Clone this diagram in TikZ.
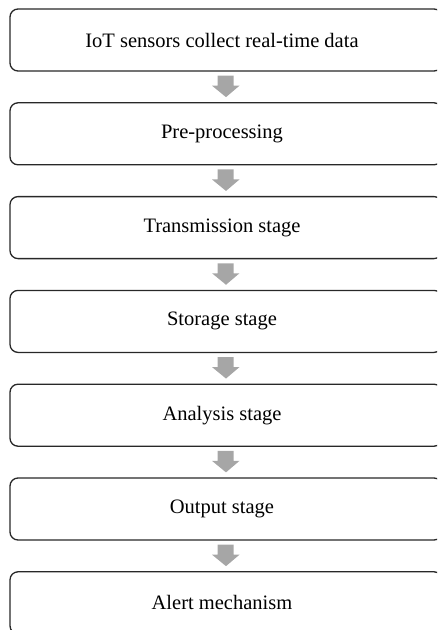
\documentclass[tikz,border=0pt]{standalone}
\usepackage{fontspec}
\setmainfont{Liberation Serif}
\definecolor{arrowgray}{RGB}{166,166,166}
\definecolor{edgegray}{RGB}{40,40,40}
\begin{document}
\begin{tikzpicture}[x=1pt,y=-1pt,
  stagebox/.style={draw=edgegray, line width=1.3pt, rounded corners=8pt,
    minimum width=432pt, minimum height=62pt, inner sep=0pt,
    font=\fontsize{20.5}{24}\selectfont},
  downarrow/.style={fill=arrowgray, draw=none}]
\useasboundingbox (0,0) rectangle (437,630);
\begin{scope}
\clip (0,0) rectangle (437,630);
\foreach \i/\txt in {0/IoT sensors collect real-time data,
                     1/Pre-processing,
                     2/Transmission stage,
                     3/Storage stage,
                     4/Analysis stage,
                     5/Output stage,
                     6/Alert mechanism}{
  \node[stagebox] (s\i) at (226,40+93.8*\i) {\hspace*{-8pt}\txt};
}
% block arrows in the gap between consecutive stages
\foreach \i [evaluate=\i as \j using int(\i+1)] in {0,...,5}{
  \coordinate (a\i) at ([yshift=-4pt]s\i.south);
  \fill[downarrow] ([xshift=-8.5pt]a\i) -- ([xshift=7.5pt]a\i)
       -- ([xshift=7.5pt,yshift=-10pt]a\i) -- ([xshift=13.5pt,yshift=-10pt]a\i)
       -- ([yshift=5pt]s\j.north) -- ([xshift=-14pt,yshift=-10pt]a\i)
       -- ([xshift=-8.5pt,yshift=-10pt]a\i) -- cycle;
}
\end{scope}
\end{tikzpicture}
\end{document}
